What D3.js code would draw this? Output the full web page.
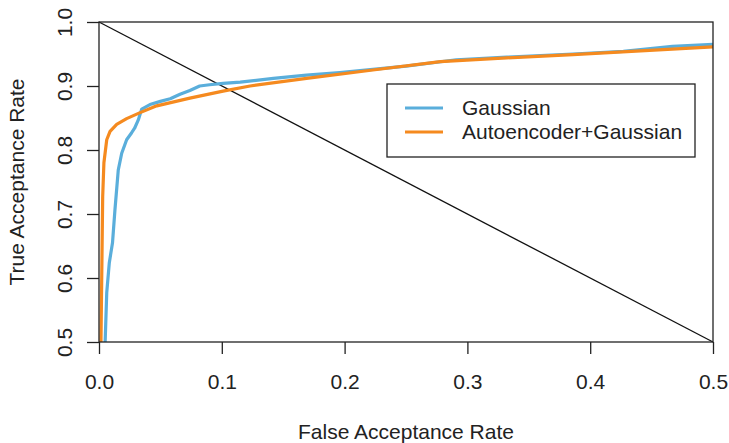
<!DOCTYPE html>
<html>
<head>
<meta charset="utf-8">
<script src="https://cdn.jsdelivr.net/npm/d3@7"></script>
<style>
  body { margin: 0; background: #fff; }
  text { font-family: "Liberation Sans", Arial, sans-serif; fill: #222; }
</style>
</head>
<body>
<div id="chart"></div>
<script>
// ROC curves
var gaussFar = [0.005, 0.0063, 0.0084, 0.011, 0.013, 0.0157, 0.0185, 0.0225, 0.0266, 0.029, 0.032, 0.0348, 0.0415, 0.050, 0.058, 0.066, 0.074, 0.082, 0.090, 0.101, 0.115, 0.142, 0.169, 0.196, 0.223, 0.25, 0.291, 0.332, 0.386, 0.427, 0.467, 0.5];
var gaussTar = [0.5, 0.577, 0.624, 0.655, 0.707, 0.769, 0.795, 0.816, 0.827, 0.834, 0.847, 0.864, 0.871, 0.876, 0.880, 0.887, 0.893, 0.900, 0.902, 0.904, 0.906, 0.912, 0.917, 0.921, 0.926, 0.931, 0.941, 0.945, 0.950, 0.954, 0.962, 0.965];

var aeFar = [0.0016, 0.003, 0.004, 0.0063, 0.009, 0.0144, 0.0225, 0.033, 0.047, 0.074, 0.101, 0.123, 0.169, 0.223, 0.278, 0.332, 0.386, 0.441, 0.5];
var aeTar = [0.5, 0.727, 0.780, 0.816, 0.829, 0.840, 0.849, 0.858, 0.869, 0.881, 0.892, 0.900, 0.912, 0.925, 0.938, 0.944, 0.949, 0.955, 0.961];

var xTicks = [0, 0.1, 0.2, 0.3, 0.4, 0.5];
var yTicks = [0.5, 0.6, 0.7, 0.8, 0.9, 1.0];
var seriesNames = ["Gaussian", "Autoencoder+Gaussian"];
var seriesColors = ["#5aaedb", "#f58a1f"];

var width = 729, height = 443;
var mLeft = 99, mRight = 713, mTop = 22, mBottom = 342;
var fontSize = "21px";

var svg = d3.select("#chart")
    .append("svg")
    .attr("width", width)
    .attr("height", height);

var x = d3.scaleLinear().domain([0, 0.5]).range([mLeft, mRight]);
var y = d3.scaleLinear().domain([0.5, 1.0]).range([mBottom, mTop]);

var xAxis = svg.append("g")
    .attr("transform", "translate(0," + mBottom + ")")
    .call(d3.axisBottom(x).tickValues(xTicks).tickFormat(d3.format(".1f")).tickSize(12));
var yAxis = svg.append("g")
    .attr("transform", "translate(" + mLeft + ",0)")
    .call(d3.axisLeft(y).tickValues(yTicks).tickFormat(d3.format(".1f")).tickSize(12));

[xAxis, yAxis].forEach(function(g) {
    g.select(".domain").remove();
    g.selectAll("line").attr("stroke", "#222").attr("stroke-width", 1.3);
    g.selectAll("text").style("font-size", fontSize).style("font-family", "Liberation Sans, Arial, sans-serif").attr("fill", "#222");
});

// baseline of x labels sits well below the ticks, as in R
xAxis.selectAll("text").attr("y", 47).attr("dy", null);

// R draws y labels parallel to the axis
yAxis.selectAll("text")
    .attr("x", 0).attr("y", 0).attr("dy", null)
    .attr("text-anchor", "middle")
    .attr("transform", "translate(-27,0) rotate(-90)");

// diagonal reference
svg.append("line")
    .attr("x1", x(0)).attr("y1", y(1))
    .attr("x2", x(0.5)).attr("y2", y(0.5))
    .attr("stroke", "#111").attr("stroke-width", 1.3);

var line = d3.line()
    .x(function(d){return x(d[0])})
    .y(function(d){return y(d[1])});

var gaussData = d3.zip(gaussFar, gaussTar);
var aeData = d3.zip(aeFar, aeTar);

svg.append("path")
    .datum(gaussData)
    .attr("d", line)
    .attr("fill", "none")
    .attr("stroke", seriesColors[0])
    .attr("stroke-width", 3.2)
    .attr("stroke-linejoin", "round");

svg.append("path")
    .datum(aeData)
    .attr("d", line)
    .attr("fill", "none")
    .attr("stroke", seriesColors[1])
    .attr("stroke-width", 3.2)
    .attr("stroke-linejoin", "round");

// plot box
svg.append("rect")
    .attr("x", mLeft).attr("y", mTop)
    .attr("width", mRight - mLeft).attr("height", mBottom - mTop)
    .attr("fill", "none").attr("stroke", "#222").attr("stroke-width", 1.3);

// legend
var legend = svg.append("g");
legend.append("rect")
    .attr("x", 387).attr("y", 84)
    .attr("width", 308).attr("height", 73)
    .attr("fill", "#fff").attr("stroke", "#222").attr("stroke-width", 1.3);

legend.selectAll("line.key")
    .data(seriesNames)
    .enter()
    .append("line")
    .attr("class", "key")
    .attr("x1", 405).attr("x2", 443)
    .attr("y1", function(d, i){return 108 + i * 24})
    .attr("y2", function(d, i){return 108 + i * 24})
    .attr("stroke", function(d, i){return seriesColors[i]})
    .attr("stroke-width", 3.2);

legend.selectAll("text.key")
    .data(seriesNames)
    .enter()
    .append("text")
    .attr("class", "key")
    .attr("x", 462)
    .attr("y", function(d, i){return 108 + i * 24})
    .attr("dy", "0.35em")
    .style("font-size", fontSize)
    .text(function(d){return d});

// axis titles
svg.append("text")
    .attr("x", (mLeft + mRight) / 2)
    .attr("y", 432)
    .attr("text-anchor", "middle")
    .attr("dy", "0.35em")
    .style("font-size", fontSize)
    .text("False Acceptance Rate");

svg.append("text")
    .attr("transform", "translate(17," + ((mTop + mBottom) / 2) + ") rotate(-90)")
    .attr("text-anchor", "middle")
    .attr("dy", "0.35em")
    .style("font-size", fontSize)
    .text("True Acceptance Rate");
</script>
</body>
</html>
